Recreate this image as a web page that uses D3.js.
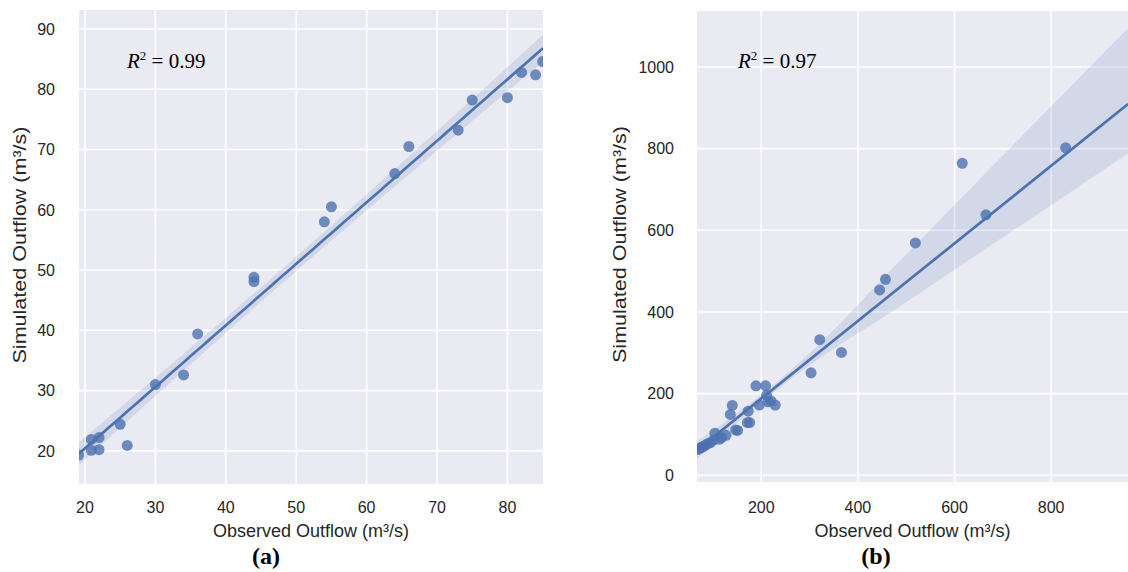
<!DOCTYPE html>
<html><head><meta charset="utf-8">
<script src="https://cdn.jsdelivr.net/npm/d3@7"></script>
<style>body{margin:0;background:#fff}svg{display:block}</style>
</head><body>
<svg id="c" width="1128" height="572"></svg>
<script>
// Panel (a)
const obsA = [19.1, 20.9, 20.9, 22, 22, 25, 26, 30, 34, 36, 44, 44, 54, 55, 64, 66, 73, 75, 80, 82, 84, 85];
const simA = [19.3, 21.9, 20.1, 22.2, 20.2, 24.4, 20.9, 31.0, 32.6, 39.4, 48.8, 48.1, 58.0, 60.5, 66.0, 70.5, 73.2, 78.2, 78.6, 82.8, 82.4, 84.6];
const xTicksA = [20, 30, 40, 50, 60, 70, 80];
const yTicksA = [20, 30, 40, 50, 60, 70, 80, 90];
// Panel (b)
const obsB = [68, 72, 76, 80, 85, 90, 95, 101, 104, 113, 118, 127, 136, 140, 147, 151, 171, 176, 173, 189, 196, 209, 211, 214, 220, 229, 303, 321, 366, 445, 457, 519, 616, 665, 830];
const simB = [63, 66, 68, 71, 74, 78, 80, 86, 103, 88, 92, 98, 149, 171, 111, 110, 129, 129, 157, 219, 172, 219, 196, 180, 182, 172, 251, 332, 301, 454, 480, 569, 764, 638, 802];
const xTicksB = [200, 400, 600, 800];
const yTicksB = [0, 200, 400, 600, 800, 1000];
// Panel (b) fitted line (intercept, slope) and confidence band
const fitB = [-2, 0.95];
const bandXB = [67, 150, 250, 350, 450, 600, 800, 959];
const bandLoB = [40, 128, 226, 310, 385, 504, 662, 788];
const bandHiB = [84, 152, 246, 356, 480, 662, 904, 1095];
const r2Labels = ["0.99", "0.97"];
const panelLabels = ["(a)", "(b)"];
const xTitle = "Observed Outflow (m³/s)";
const yTitle = "Simulated Outflow (m³/s)";

const svg = d3.select("#c");
const blue = "#4C72B0";

function olsBand(xs, ys, xDom) {
  const n = xs.length, mx = d3.mean(xs), my = d3.mean(ys);
  let sxx = 0, sxy = 0;
  xs.forEach((x, i) => { sxx += (x - mx) ** 2; sxy += (x - mx) * (ys[i] - my); });
  const b = sxy / sxx, a = my - b * mx;
  let sse = 0; xs.forEach((x, i) => { sse += (ys[i] - a - b * x) ** 2; });
  const s = Math.sqrt(sse / (n - 2)), t = 2.09;
  return d3.range(0, 101).map(i => {
    const xv = xDom[0] + (xDom[1] - xDom[0]) * i / 100;
    const yh = a + b * xv;
    const se = s * Math.sqrt(1 / n + (xv - mx) ** 2 / sxx);
    return { x: xv, lo: yh - t * se, hi: yh + t * se };
  }).map(d => ({ ...d, y: a + b * d.x }));
}

function panel(cfg) {
  const { left, right, top, bottom, xDom, yDom, xs, ys, xt, yt, id, r2, lab, r2x, labX, yTitleX, tickEnd, band, line } = cfg;
  const x = d3.scaleLinear().domain(xDom).range([left, right]);
  const y = d3.scaleLinear().domain(yDom).range([bottom, top]);
  const g = svg.append("g");
  g.append("clipPath").attr("id", id).append("rect")
    .attr("x", left).attr("y", top).attr("width", right - left).attr("height", bottom - top);
  g.append("rect").attr("x", left).attr("y", top).attr("width", right - left).attr("height", bottom - top).attr("fill", "#EAEAF2");
  const cg = g.append("g").attr("clip-path", `url(#${id})`);
  cg.selectAll(".vx").data(xt).join("line").attr("x1", d => x(d)).attr("x2", d => x(d)).attr("y1", top).attr("y2", bottom)
    .attr("stroke", "#fff").attr("stroke-width", 1.6);
  cg.selectAll(".hy").data(yt).join("line").attr("y1", d => y(d)).attr("y2", d => y(d)).attr("x1", left).attr("x2", right)
    .attr("stroke", "#fff").attr("stroke-width", 1.6);

  cg.append("path").datum(band)
    .attr("d", d3.area().curve(d3.curveMonotoneX).x(d => x(d.x)).y0(d => y(d.lo)).y1(d => y(d.hi)))
    .attr("fill", blue).attr("fill-opacity", 0.15);
  cg.selectAll("circle").data(xs.map((v, i) => [v, ys[i]])).join("circle")
    .attr("cx", d => x(d[0])).attr("cy", d => y(d[1])).attr("r", 5.5)
    .attr("fill", blue).attr("fill-opacity", 0.8);
  cg.append("path").datum(line)
    .attr("d", d3.line().x(d => x(d.x)).y(d => y(d.y)))
    .attr("fill", "none").attr("stroke", blue).attr("stroke-width", 2.7);

  const font = "'Liberation Sans', Arial, sans-serif";
  g.selectAll(".xt").data(xt).join("text").attr("x", d => x(d)).attr("y", 513)
    .attr("text-anchor", "middle").attr("font-family", font).attr("font-size", 16).attr("fill", "#262626").text(d => d);
  g.selectAll(".yt").data(yt).join("text").attr("x", tickEnd).attr("y", d => y(d) + 5.8)
    .attr("text-anchor", "end").attr("font-family", font).attr("font-size", 16).attr("fill", "#262626").text(d => d);
  g.append("text").attr("x", (left + right) / 2).attr("y", 537).attr("text-anchor", "middle")
    .attr("font-family", font).attr("font-size", 18).attr("fill", "#262626").text(xTitle);
  g.append("text").attr("transform", `translate(${yTitleX},${(top + bottom) / 2 - 2}) rotate(-90)`).attr("text-anchor", "middle")
    .attr("font-family", font).attr("font-size", 18).attr("fill", "#262626")
    .attr("textLength", 237).attr("lengthAdjust", "spacingAndGlyphs").text(yTitle);
  const rt = g.append("text").attr("x", r2x).attr("y", 68).attr("font-family", "'Liberation Serif', 'Times New Roman', serif")
    .attr("font-size", 21).attr("fill", "#000");
  rt.append("tspan").attr("font-style", "italic").text("R");
  rt.append("tspan").attr("font-size", 13).attr("dy", -8).text("2");
  rt.append("tspan").attr("dy", 8).text(" = " + r2);
  g.append("text").attr("x", labX).attr("y", 564).attr("text-anchor", "middle")
    .attr("font-family", "'Liberation Serif', 'Times New Roman', serif").attr("font-weight", "bold")
    .attr("font-size", 24).attr("fill", "#000").text(lab);
}

const xDomA = [19.15, 85.05], xDomB = [67, 959];
const bandA = olsBand(obsA, simA, xDomA);
const bandB = bandXB.map((xv, i) => ({ x: xv, lo: bandLoB[i], hi: bandHiB[i] }));
const lineB = xDomB.map(xv => ({ x: xv, y: fitB[0] + fitB[1] * xv }));

panel({ left: 79, right: 543, top: 10, bottom: 484, xDom: xDomA, yDom: [14.5, 93.15],
  xs: obsA, ys: simA, xt: xTicksA, yt: yTicksA, id: "ca", r2: r2Labels[0], lab: panelLabels[0],
  r2x: 127, labX: 266, yTitleX: 26, tickEnd: 55, band: bandA, line: bandA });
panel({ left: 697, right: 1128, top: 11, bottom: 482, xDom: xDomB, yDom: [-16.4, 1137],
  xs: obsB, ys: simB, xt: xTicksB, yt: yTicksB, id: "cb", r2: r2Labels[1], lab: panelLabels[1],
  r2x: 738, labX: 876, yTitleX: 626, tickEnd: 674, band: bandB, line: lineB });
</script>
</body></html>
